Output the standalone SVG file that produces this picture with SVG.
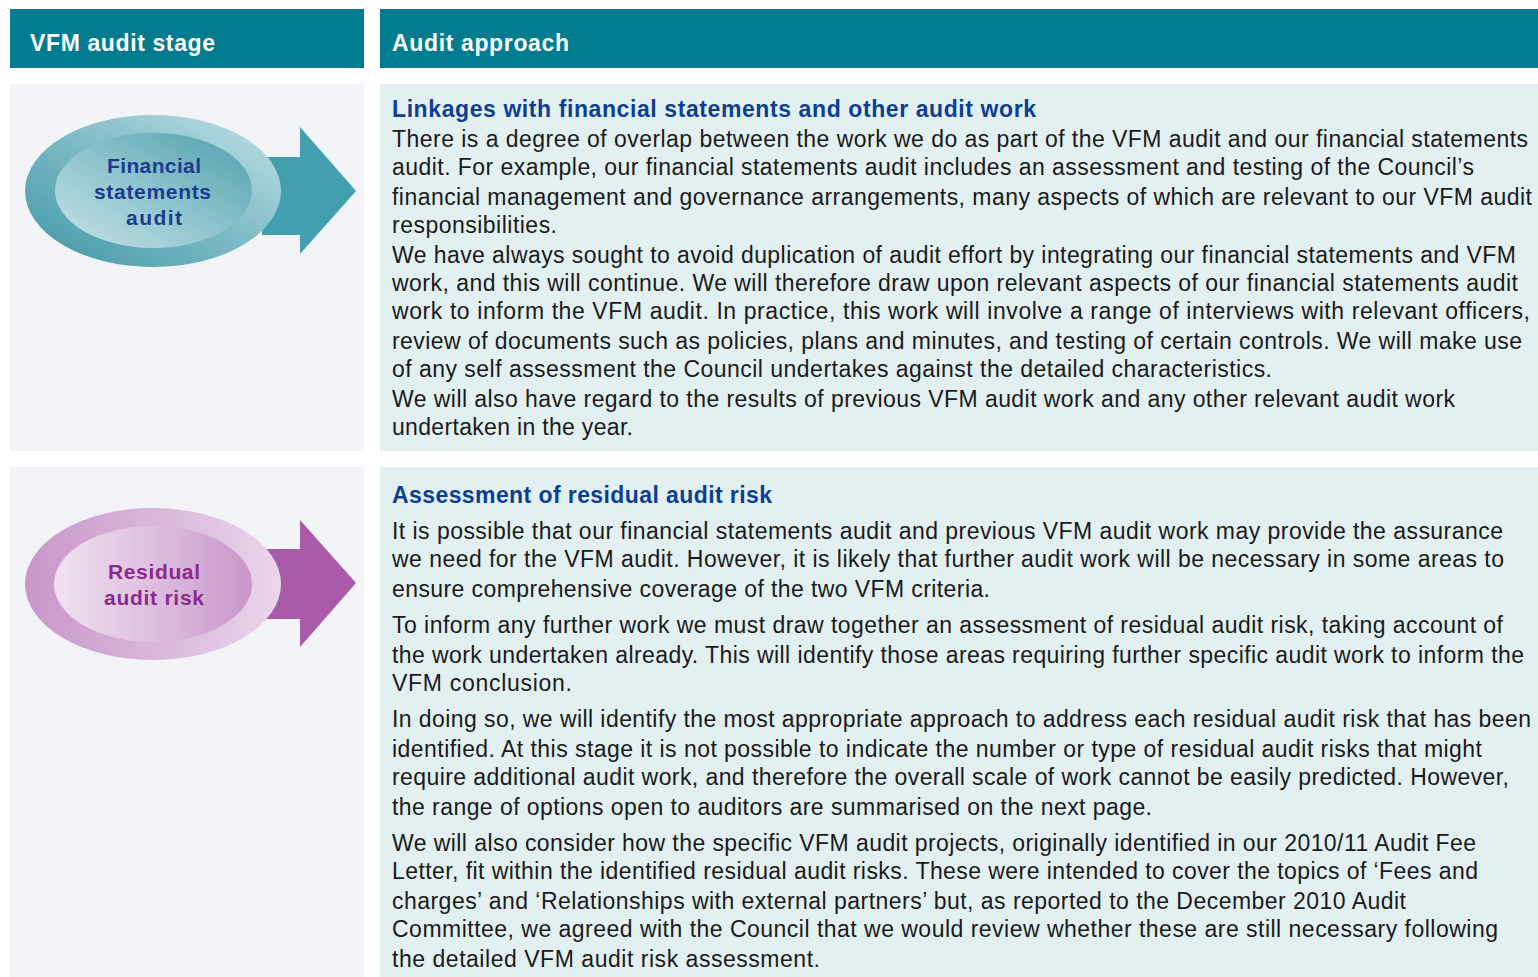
<svg xmlns="http://www.w3.org/2000/svg" width="1538" height="977" viewBox="0 0 1538 977">
<style>
.hdr{fill:#007B8F}
.hdrt{font-family:"Liberation Sans",Arial,sans-serif;font-size:23px;font-weight:bold;fill:#ffffff}
.lp{fill:#F3F4F8}
.rp{fill:#E2F0F2}
.h{font-family:"Liberation Sans",Arial,sans-serif;font-size:23px;font-weight:bold;fill:#0D3E93}
.b{font-family:"Liberation Sans",Arial,sans-serif;font-size:23px;fill:#1a1a1a}
.lt{font-family:"Liberation Sans",Arial,sans-serif;font-size:21px;font-weight:bold}
</style>
<defs>
<linearGradient id="tOuter" x1="0" y1="1" x2="1" y2="0">
<stop offset="0" stop-color="#3F96A5"/>
<stop offset="0.5" stop-color="#7CBAC5"/>
<stop offset="1" stop-color="#C4E2E6"/>
</linearGradient>
<linearGradient id="tInner" x1="0" y1="1" x2="1" y2="0">
<stop offset="0" stop-color="#C8E3E7"/>
<stop offset="0.5" stop-color="#8CC3CC"/>
<stop offset="1" stop-color="#4E9FAD"/>
</linearGradient>
<linearGradient id="pOuter" x1="0" y1="0" x2="1" y2="0">
<stop offset="0" stop-color="#C897C9"/>
<stop offset="0.6" stop-color="#DCBDDD"/>
<stop offset="1" stop-color="#EAD6EB"/>
</linearGradient>
<linearGradient id="pInner" x1="0" y1="0" x2="1" y2="0">
<stop offset="0" stop-color="#F0E2F0"/>
<stop offset="0.5" stop-color="#DDBFDE"/>
<stop offset="1" stop-color="#C996CA"/>
</linearGradient>
</defs>

<g id="header">
<rect class="hdr" x="10" y="9" width="354" height="59"/>
<rect class="hdr" x="380" y="9" width="1158" height="59"/>
<text class="hdrt" x="30" y="51" textLength="185" lengthAdjust="spacing">VFM audit stage</text>
<text class="hdrt" x="392" y="51" textLength="177" lengthAdjust="spacing">Audit approach</text>
</g>

<g id="row1-panels">
<rect class="lp" x="10" y="84" width="354" height="367"/>
<rect class="rp" x="380" y="84" width="1158" height="367"/>
</g>
<g id="row2-panels">
<rect class="lp" x="10" y="467" width="354" height="510"/>
<rect class="rp" x="380" y="467" width="1158" height="510"/>
</g>

<g id="connectors">
<polygon points="262,157 300,157 300,127 356,191 300,254 300,235 262,235" fill="#429FAE"/>
<polygon points="262,549 300,549 300,520 356,583 300,647 300,619 262,619" fill="#A95BAA"/>
</g>

<g id="node-financial">
<ellipse cx="153" cy="191" rx="128" ry="76" fill="url(#tOuter)"/>
<ellipse cx="153.5" cy="190.5" rx="98.5" ry="57.5" fill="url(#tInner)"/>
<text class="lt" x="107" y="173" fill="#1B3C8E" textLength="94" lengthAdjust="spacing">Financial</text>
<text class="lt" x="94" y="199" fill="#1B3C8E" textLength="117" lengthAdjust="spacing">statements</text>
<text class="lt" x="126" y="225" fill="#1B3C8E" textLength="56" lengthAdjust="spacing">audit</text>
</g>

<g id="node-residual">
<ellipse cx="153" cy="584" rx="128" ry="76" fill="url(#pOuter)"/>
<ellipse cx="153" cy="584" rx="99" ry="58" fill="url(#pInner)"/>
<text class="lt" x="108" y="579" fill="#8B2A8C" textLength="92" lengthAdjust="spacing">Residual</text>
<text class="lt" x="104" y="605" fill="#8B2A8C" textLength="100" lengthAdjust="spacing">audit risk</text>
</g>

<g id="text-linkages">
<text class="h" x="392" y="117" textLength="644" lengthAdjust="spacing">Linkages with financial statements and other audit work</text>
<text class="b" x="392" y="147" textLength="1136" lengthAdjust="spacing">There is a degree of overlap between the work we do as part of the VFM  audit and our financial statements</text>
<text class="b" x="392" y="175" textLength="1082" lengthAdjust="spacing">audit. For example, our financial statements audit includes an assessment and testing of the Council’s</text>
<text class="b" x="392" y="205" textLength="1140" lengthAdjust="spacing">financial management and governance arrangements, many aspects of which are relevant to our VFM  audit</text>
<text class="b" x="392" y="233" textLength="165" lengthAdjust="spacing">responsibilities.</text>
<text class="b" x="392" y="263" textLength="1124" lengthAdjust="spacing">We have  always sought to avoid duplication of audit effort by integrating our financial statements and VFM</text>
<text class="b" x="392" y="291" textLength="1126" lengthAdjust="spacing">work, and this will continue. We  will therefore draw upon relevant aspects of our financial statements audit</text>
<text class="b" x="392" y="319" textLength="1138" lengthAdjust="spacing">work to inform the VFM audit. In practice, this work will involve a range of interviews with relevant officers,</text>
<text class="b" x="392" y="349" textLength="1130" lengthAdjust="spacing">review of documents such as policies, plans and minutes, and testing of certain controls. We will make use</text>
<text class="b" x="392" y="377" textLength="880" lengthAdjust="spacing">of any self assessment the Council undertakes against the detailed characteristics.</text>
<text class="b" x="392" y="407" textLength="1063" lengthAdjust="spacing">We will also have regard to the results of previous VFM  audit work and any other relevant audit work</text>
<text class="b" x="392" y="435" textLength="241" lengthAdjust="spacing">undertaken in the year.</text>
</g>

<g id="text-residual">
<text class="h" x="392" y="503" textLength="380" lengthAdjust="spacing">Assessment of residual audit risk</text>
<text class="b" x="392" y="539" textLength="1111" lengthAdjust="spacing">It is possible that our financial statements audit and previous VFM audit work may provide the assurance</text>
<text class="b" x="392" y="567" textLength="1112" lengthAdjust="spacing">we need for the VFM  audit. However, it is likely that further audit work will be necessary in some areas to</text>
<text class="b" x="392" y="597" textLength="598" lengthAdjust="spacing">ensure comprehensive coverage of the two VFM  criteria.</text>
<text class="b" x="392" y="633" textLength="1111" lengthAdjust="spacing">To inform any further work we must draw together an assessment of residual audit risk, taking account of</text>
<text class="b" x="392" y="663" textLength="1132" lengthAdjust="spacing">the work undertaken already. This will identify those areas requiring further specific audit work to inform the</text>
<text class="b" x="392" y="691" textLength="180" lengthAdjust="spacing">VFM  conclusion.</text>
<text class="b" x="392" y="727" textLength="1139" lengthAdjust="spacing">In doing so, we will identify the most appropriate approach to address each residual audit risk that has been</text>
<text class="b" x="392" y="757" textLength="1090" lengthAdjust="spacing">identified. At this stage it is not possible to indicate the number or type  of residual audit risks that might</text>
<text class="b" x="392" y="785" textLength="1117" lengthAdjust="spacing">require additional audit work, and therefore the overall scale of work cannot be easily predicted. However,</text>
<text class="b" x="392" y="815" textLength="760" lengthAdjust="spacing">the range of options open to auditors are summarised on the next page.</text>
<text class="b" x="392" y="851" textLength="1084" lengthAdjust="spacing">We will also consider how the specific VFM audit projects, originally identified in our 2010/11 Audit Fee</text>
<text class="b" x="392" y="879" textLength="1086" lengthAdjust="spacing">Letter, fit within the identified residual audit risks. These were intended to cover the topics of ‘Fees and</text>
<text class="b" x="392" y="909" textLength="1014" lengthAdjust="spacing">charges’ and ‘Relationships with external partners’ but, as reported to the December 2010 Audit</text>
<text class="b" x="392" y="937" textLength="1106" lengthAdjust="spacing">Committee, we agreed with the Council that we would review whether these are still necessary following</text>
<text class="b" x="392" y="967" textLength="428" lengthAdjust="spacing">the detailed VFM audit risk assessment.</text>
</g>
</svg>
